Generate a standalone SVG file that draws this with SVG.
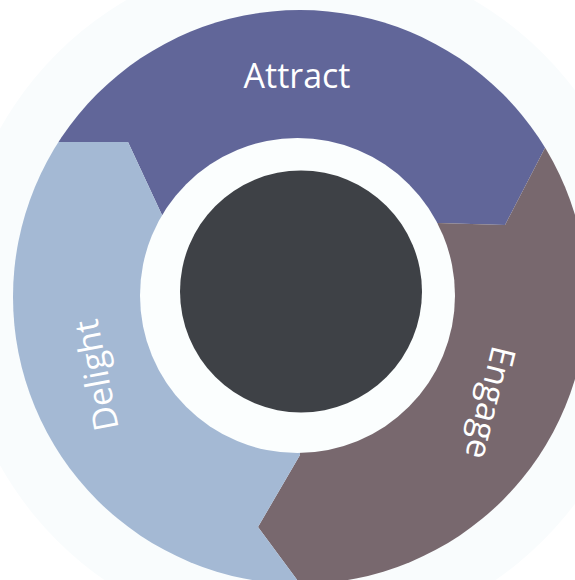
<svg xmlns="http://www.w3.org/2000/svg" width="575" height="580" viewBox="0 0 575 580">
  <style>
    .label { font-family: "Open Sans", "Liberation Sans", sans-serif; font-size: 34px; fill: #ffffff; text-anchor: middle; }
    .attract { fill: #616699; }
    .engage { fill: #78686e; }
    .delight { fill: #a4b9d4; }
  </style>
  <defs>
    <clipPath id="ring-clip">
      <circle cx="300" cy="297" r="287"/>
    </clipPath>
  </defs>

  <!-- page and soft halo -->
  <rect width="575" height="580" fill="#ffffff"/>
  <circle cx="300" cy="297" r="344" fill="#f9fcfd"/>

  <!-- cycle stages: each wedge ends in an arrow tip that keys into the next -->
  <g id="stages" clip-path="url(#ring-clip)">
    <g id="attract">
      <polygon class="attract" points="-50,142 128,142 162,215 300,297 438,223 505,225 600,42 600,-50 -50,-50"/>
    </g>
    <g id="engage">
      <polygon class="engage" points="600,42 505,225 438,223 300,297 300,455 258,527 349,650 650,650 650,42"/>
    </g>
    <g id="delight">
      <polygon class="delight" points="-50,142 128,142 162,215 300,297 300,455 258,527 349,650 -50,650"/>
    </g>
  </g>

  <!-- hub -->
  <g id="hub">
    <circle cx="297.5" cy="295.5" r="157.5" fill="#fbfefe"/>
    <circle cx="301" cy="291.5" r="121" fill="#3e4146"/>
  </g>

  <!-- stage labels -->
  <g id="labels">
    <text class="label" x="297" y="88">Attract</text>
    <text class="label" transform="translate(108,373) rotate(-101)">Delight</text>
    <text class="label" transform="translate(479,400) rotate(104)">Engage</text>
  </g>
</svg>
